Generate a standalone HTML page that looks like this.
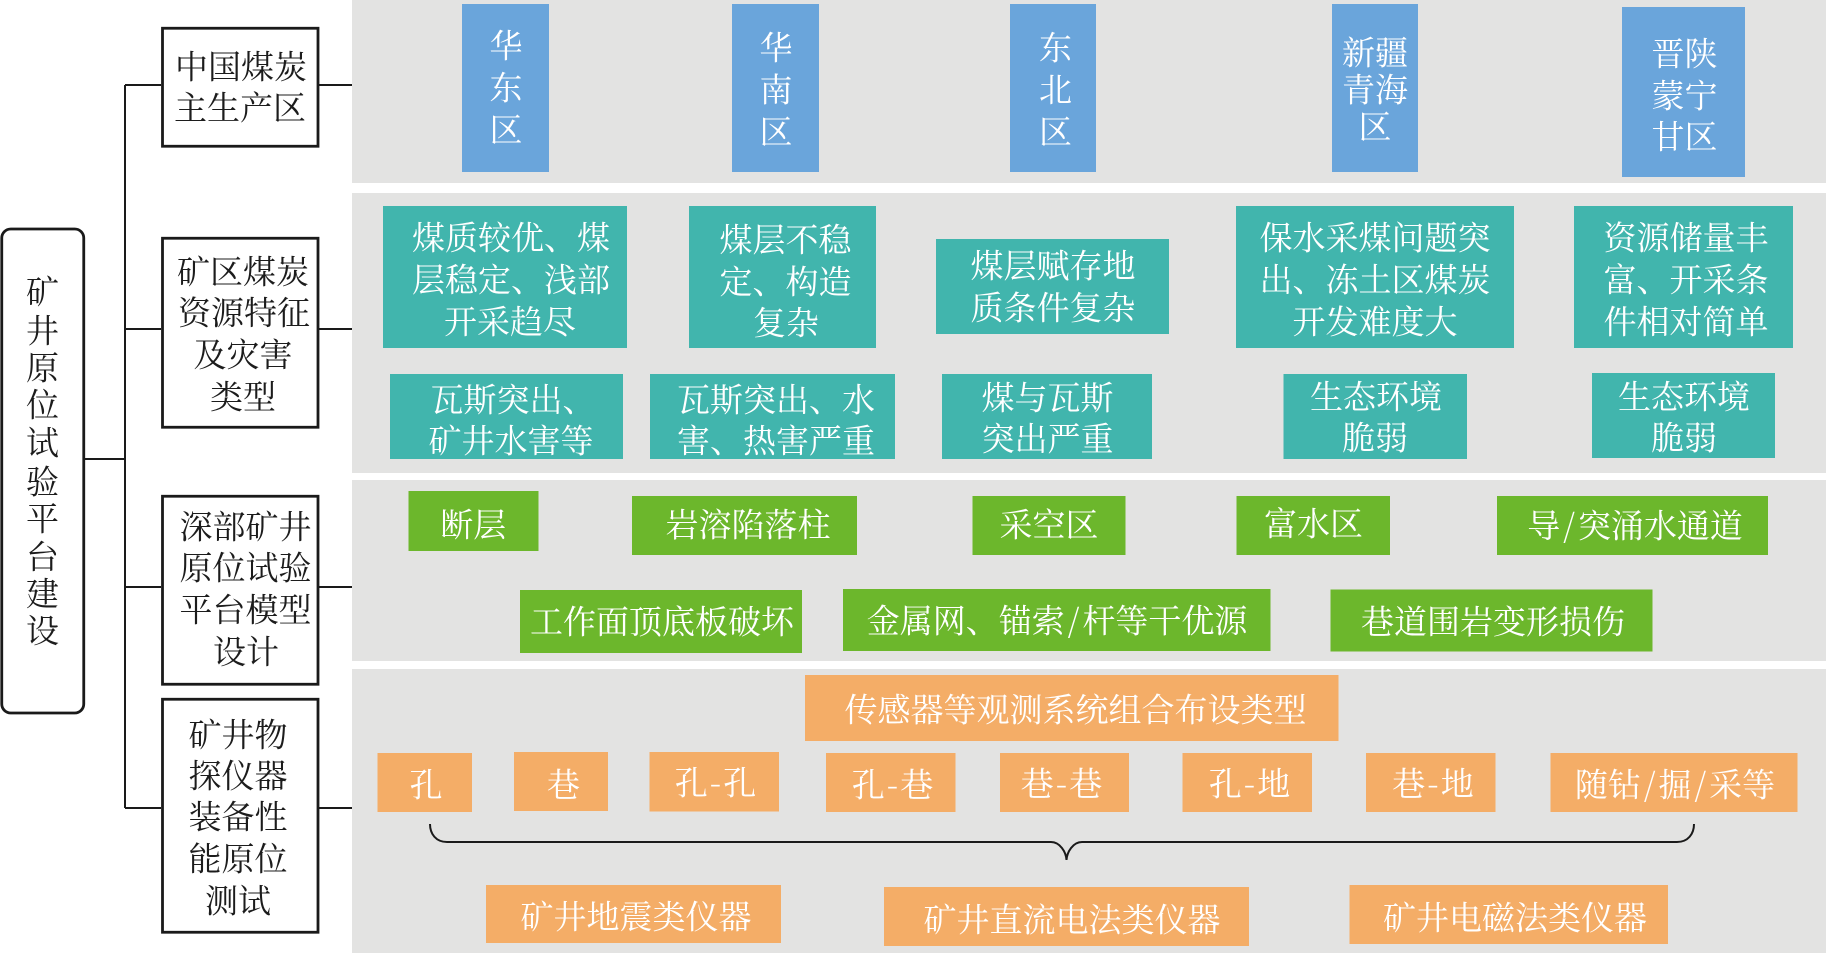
<!DOCTYPE html>
<html lang="zh">
<head>
<meta charset="utf-8">
<title>矿井原位试验平台建设</title>
<style>
html,body{margin:0;padding:0;background:#fff;width:1826px;height:953px;overflow:hidden}
svg{display:block}
text{font-family:"Noto Serif CJK SC","Liberation Serif",serif;font-size:33px;font-weight:400;text-anchor:middle}
.d text{fill:#1c1c1c}
.w text{fill:#fff}
.k{fill:#fff;stroke:#1a1a1a;stroke-width:2.800}
.l{fill:none;stroke:#1a1a1a;stroke-width:2}
.p{fill:#e3e3e2}
.b{fill:#6aa5db}.t{fill:#41b5ad}.g{fill:#6cb72c}.o{fill:#f4ad67}
</style>
</head>
<body>
<svg width="1826" height="953" viewBox="0 0 1826 953" xmlns="http://www.w3.org/2000/svg">
<!-- panels -->
<rect class="p" x="352" y="0" width="1474" height="183"/>
<rect class="p" x="352" y="193" width="1474" height="280"/>
<rect class="p" x="352" y="480" width="1474" height="181"/>
<rect class="p" x="352" y="669" width="1474" height="284"/>
<!-- connectors -->
<path class="l" d="M85 459H125M125 85V808M125 85H161M125 329H161M125 587H161M125 808H161M319 85H352M319 329H352M319 587H352M319 808H352"/>
<!-- left boxes -->
<rect class="k" x="1.750" y="229" width="82" height="484" rx="9"/>
<rect class="k" x="162.500" y="28.250" width="155.500" height="118"/>
<rect class="k" x="162.500" y="238.250" width="155.500" height="189"/>
<rect class="k" x="162.500" y="496.250" width="155.500" height="188"/>
<rect class="k" x="162.500" y="699.250" width="155.500" height="233"/>
<!-- blue -->
<rect class="b" x="462" y="4" width="87" height="168"/>
<rect class="b" x="732" y="4" width="87" height="168"/>
<rect class="b" x="1010" y="4" width="86" height="168"/>
<rect class="b" x="1332" y="4" width="86" height="168"/>
<rect class="b" x="1622" y="7" width="123" height="170"/>
<!-- teal -->
<rect class="t" x="383" y="206" width="244" height="142"/>
<rect class="t" x="689" y="206" width="187" height="142"/>
<rect class="t" x="936" y="239" width="233" height="95"/>
<rect class="t" x="1236" y="206" width="278" height="142"/>
<rect class="t" x="1574" y="206" width="219" height="142"/>
<rect class="t" x="390" y="374" width="233" height="85"/>
<rect class="t" x="650" y="374" width="245" height="85"/>
<rect class="t" x="942" y="374" width="210" height="85"/>
<rect class="t" x="1283.500" y="374" width="183.500" height="85"/>
<rect class="t" x="1592" y="373" width="183" height="85"/>
<!-- green -->
<rect class="g" x="408.500" y="491" width="130" height="60"/>
<rect class="g" x="632" y="496" width="225" height="59"/>
<rect class="g" x="972.500" y="496" width="153" height="59"/>
<rect class="g" x="1236.500" y="496" width="153.500" height="59"/>
<rect class="g" x="1497" y="496" width="271" height="59"/>
<rect class="g" x="520" y="590" width="282" height="63"/>
<rect class="g" x="843" y="589" width="427.500" height="62"/>
<rect class="g" x="1330.500" y="589.500" width="322" height="62"/>
<!-- orange -->
<rect class="o" x="805" y="675" width="533.500" height="66"/>
<rect class="o" x="377.500" y="753" width="94.500" height="59"/>
<rect class="o" x="514" y="752" width="94" height="59"/>
<rect class="o" x="649.500" y="752" width="129.500" height="59.500"/>
<rect class="o" x="826" y="753" width="129.500" height="59"/>
<rect class="o" x="1000" y="753" width="129" height="59"/>
<rect class="o" x="1182.500" y="753" width="129.500" height="59"/>
<rect class="o" x="1366" y="753" width="129.500" height="59"/>
<rect class="o" x="1550.500" y="753" width="247" height="59"/>
<rect class="o" x="486" y="885" width="295" height="58"/>
<rect class="o" x="884" y="887" width="365" height="59"/>
<rect class="o" x="1349.500" y="885" width="318.500" height="59"/>
<!-- brace -->
<path class="l" d="M430 824C430 834 436 842 447 842H1051C1060 842 1066 852 1066.500 860C1067 852 1073 842 1082 842H1677C1688 842 1694 834 1694 824"/>
<g transform="translate(0,12.500)">
<g class="d">
<text x="241" y="66">中国煤炭</text>
<text x="240" y="107">主生产区</text>
<text x="243" y="271">矿区煤炭</text>
<text x="244" y="312">资源特征</text>
<text x="243" y="354">及灾害</text>
<text x="243" y="396">类型</text>
<text x="245.500" y="526">深部矿井</text>
<text x="245.500" y="567">原位试验</text>
<text x="245.500" y="609">平台模型</text>
<text x="246" y="651">设计</text>
<text x="238" y="734">矿井物</text>
<text x="238" y="775">探仪器</text>
<text x="238" y="816">装备性</text>
<text x="238" y="858">能原位</text>
<text x="238" y="900">测试</text>
<text x="42.500" y="291">矿</text>
<text x="42.500" y="330">井</text>
<text x="42.500" y="367">原</text>
<text x="42.500" y="404">位</text>
<text x="42.500" y="442">试</text>
<text x="42.500" y="481">验</text>
<text x="42.500" y="518">平</text>
<text x="42.500" y="556">台</text>
<text x="42.500" y="593">建</text>
<text x="42.500" y="630">设</text>
</g>
<g class="w">
<text x="506" y="45">华</text>
<text x="506" y="87">东</text>
<text x="506" y="129">区</text>
<text x="776" y="47">华</text>
<text x="776" y="89">南</text>
<text x="776" y="131">区</text>
<text x="1055.500" y="47">东</text>
<text x="1055.500" y="89">北</text>
<text x="1055.500" y="131">区</text>
<text x="1375" y="52">新疆</text>
<text x="1375" y="89">青海</text>
<text x="1375" y="126">区</text>
<text x="1684.500" y="53">晋陕</text>
<text x="1684.500" y="95">蒙宁</text>
<text x="1684.500" y="136">甘区</text>

<text x="511" y="237">煤质较优、煤</text>
<text x="511" y="279">层稳定、浅部</text>
<text x="510" y="321">开采趋尽</text>
<text x="785.500" y="239">煤层不稳</text>
<text x="785.500" y="281">定、构造</text>
<text x="786" y="322">复杂</text>
<text x="1053" y="265">煤层赋存地</text>
<text x="1053" y="307">质条件复杂</text>
<text x="1375" y="237">保水采煤问题突</text>
<text x="1375" y="279">出、冻土区煤炭</text>
<text x="1375" y="321">开发难度大</text>
<text x="1686" y="237">资源储量丰</text>
<text x="1686" y="279">富、开采条</text>
<text x="1686" y="321">件相对简单</text>
<text x="513" y="399">瓦斯突出、</text>
<text x="511" y="440">矿井水害等</text>
<text x="776" y="399">瓦斯突出、水</text>
<text x="776" y="440">害、热害严重</text>
<text x="1047.500" y="397">煤与瓦斯</text>
<text x="1047.500" y="438">突出严重</text>
<text x="1376" y="396">生态环境</text>
<text x="1375" y="437">脆弱</text>
<text x="1684" y="396">生态环境</text>
<text x="1684" y="437">脆弱</text>

<text x="473.300" y="524">断层</text>
<text x="748" y="524">岩溶陷落柱</text>
<text x="1049" y="524">采空区</text>
<text x="1313.500" y="523">富水区</text>
<text x="1635" y="525">导<tspan dx="3">/</tspan><tspan dx="3">突涌水通道</tspan></text>
<text x="662" y="621">工作面顶底板破坏</text>
<text x="1057" y="620">金属网、锚索<tspan dx="3">/</tspan><tspan dx="3">杆等干优源</tspan></text>
<text x="1493" y="621">巷道围岩变形损伤</text>

<text x="1075.500" y="709">传感器等观测系统组合布设类型</text>
<text x="426" y="784">孔</text>
<text x="563.500" y="784">巷</text>
<text x="715.500" y="782">孔<tspan dx="2">-</tspan><tspan dx="2">孔</tspan></text>
<text x="892.500" y="784">孔<tspan dx="2">-</tspan><tspan dx="2">巷</tspan></text>
<text x="1061.500" y="783">巷<tspan dx="2">-</tspan><tspan dx="2">巷</tspan></text>
<text x="1249.500" y="783">孔<tspan dx="2">-</tspan><tspan dx="2">地</tspan></text>
<text x="1433" y="783">巷<tspan dx="2">-</tspan><tspan dx="2">地</tspan></text>
<text x="1675" y="784">随钻<tspan dx="3">/</tspan><tspan dx="3">掘</tspan><tspan dx="3">/</tspan><tspan dx="3">采等</tspan></text>
<text x="636" y="916">矿井地震类仪器</text>
<text x="1072" y="919">矿井直流电法类仪器</text>
<text x="1515" y="917">矿井电磁法类仪器</text>
</g>
</g>
</svg>
</body>
</html>
